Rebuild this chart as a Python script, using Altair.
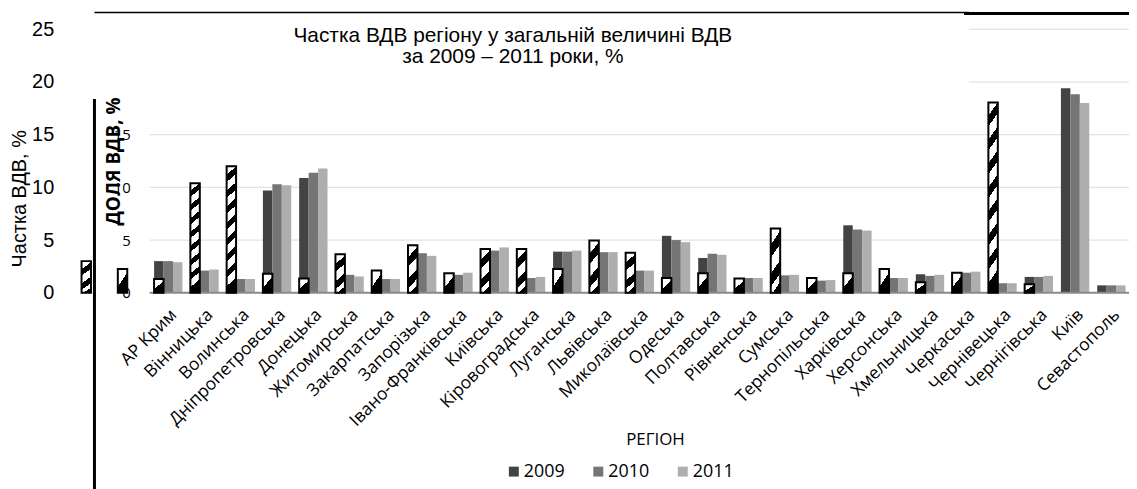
import altair as alt
import pandas as pd

regions = ["АР Крим", "Вінницька", "Волинська", "Дніпропетровська", "Донецька",
           "Житомирська", "Закарпатська", "Запорізька", "Івано-Франківська", "Київська",
           "Кіровоградська", "Луганська", "Львівська", "Миколаївська", "Одеська",
           "Полтавська", "Рівненська", "Сумська", "Тернопільська", "Харківська",
           "Херсонська", "Хмельницька", "Черкаська", "Чернівецька", "Чернігівська",
           "Київ", "Севастополь"]
years = ["2009", "2010", "2011"]
share_2009 = [3.0, 2.0, 1.3, 9.7, 10.9, 1.7, 1.3, 3.75, 1.7, 4.0, 1.4, 3.9, 3.85, 2.1, 5.4,
              3.3, 1.4, 1.65, 1.15, 6.4, 1.4, 1.75, 1.9, 0.9, 1.5, 19.4, 0.7]
share_2010 = [3.0, 2.1, 1.3, 10.3, 11.4, 1.7, 1.3, 3.75, 1.7, 4.0, 1.4, 3.9, 3.85, 2.1, 5.0,
              3.7, 1.4, 1.65, 1.15, 6.0, 1.4, 1.6, 1.9, 0.9, 1.5, 18.85, 0.7]
share_2011 = [2.9, 2.2, 1.3, 10.2, 11.8, 1.55, 1.3, 3.5, 1.9, 4.3, 1.5, 4.0, 3.85, 2.1, 4.8,
              3.6, 1.4, 1.7, 1.2, 5.9, 1.4, 1.7, 2.0, 0.9, 1.6, 18.0, 0.7]
# hatched (overlaid) series: two extra slots before the regions
extra_slots = ["_a", "_b"]
hatched_values = [3.0, 2.25, 1.3, 10.4, 12.0, 1.8, 1.35, 3.65, 2.1, 4.5, 1.85, 4.15, 4.15,
                  2.25, 4.95, 3.8, 1.4, 1.85, 1.35, 6.1, 1.4, 1.85, 2.25, 1.0, 1.9, 18.05,
                  0.8, 0.0, 0.0]
bg_ticks = [0, 5, 10, 15, 20, 25]
fg_ticks = [0, 5, 10, 15]
grid_full = [5, 10, 15]
grid_right = [20, 25]
year_colors = ["#3d3d3d", "#717171", "#ababab"]

slots = extra_slots + regions
rows = []
for yr, vals in zip(years, [share_2009, share_2010, share_2011]):
    for r, v in zip(regions, vals):
        rows.append({"region": r, "year": yr, "value": v})
df = pd.DataFrame(rows)
dfh = pd.DataFrame({"region": slots, "year": "2009", "value": hatched_values})

W, H = 1078, 265
FG = "Open Sans"
BG = "Liberation Sans"

xscale = alt.Scale(domain=slots, range=[19.5, 1078], paddingInner=0, paddingOuter=0)
xoff_scale = alt.Scale(domain=years, range=[4.5, 33], paddingInner=0, paddingOuter=0)
yscale = alt.Scale(domain=[0, 25], nice=False, zero=True)

xaxis = alt.Axis(title="РЕГІОН", labelAngle=-45, labelFont=FG, labelFontSize=17.5,
                 labelColor="#000000", ticks=False, domain=False, labelPadding=13,
                 labelExpr="indexof(['_a','_b'], datum.label) >= 0 ? '' : datum.label",
                 titleFont=FG, titleFontSize=17, titleFontWeight="normal", titleColor="#000000",
                 titleX=601, titleY=148, titleBaseline="middle", titleAlign="center")
bg_axis = alt.Axis(values=bg_ticks, domain=False, ticks=False, grid=False,
                   labelFont=BG, labelFontSize=20, labelColor="#000000", labelPadding=4,
                   title="Частка ВДВ, %", titleFont=BG, titleFontSize=20,
                   titleFontWeight="normal", titleColor="#000000", titleX=-38, titleY=170,
                   titleAngle=270, titleBaseline="middle", titleAlign="center")

grid1 = alt.Chart(pd.DataFrame({"value": grid_full})).mark_rule(
    color="#e3e3e3", strokeWidth=1.3).encode(
    y=alt.Y("value:Q", scale=yscale, axis=bg_axis), x=alt.value(92.5), x2=alt.value(1078))
grid2 = alt.Chart(pd.DataFrame({"value": grid_right})).mark_rule(
    color="#e3e3e3", strokeWidth=1.3).encode(
    y=alt.Y("value:Q", scale=yscale), x=alt.value(917), x2=alt.value(1078))

bars = alt.Chart(df).mark_bar(opacity=0.97).encode(
    x=alt.X("region:N", scale=xscale, axis=xaxis, sort=None),
    xOffset=alt.XOffset("year:N", scale=xoff_scale),
    y=alt.Y("value:Q", scale=yscale),
    color=alt.Color("year:N", scale=alt.Scale(domain=years, range=year_colors),
                    legend=alt.Legend(orient="none", legendX=450, legendY=436,
                                      direction="horizontal", title=None,
                                      symbolType="square", symbolSize=100,
                                      symbolStrokeWidth=0, labelFont=FG,
                                      labelFontSize=18, labelColor="#000000",
                                      columnPadding=24, labelOffset=1)),
)

baseline = alt.Chart(pd.DataFrame({"value": [0]})).mark_rule(
    color="#8a8a8a", strokeWidth=2).encode(
    y=alt.Y("value:Q", scale=yscale), x=alt.value(92.5), x2=alt.value(1078))


def stripes(periods, tilt):
    stops = []
    k = 0
    while k / periods <= 1:
        a = k / periods
        b = min((k + 0.55) / periods, 1)
        c = min((k + 1) / periods, 1)
        stops += [alt.GradientStop(color="white", offset=a),
                  alt.GradientStop(color="white", offset=b),
                  alt.GradientStop(color="black", offset=b),
                  alt.GradientStop(color="black", offset=c)]
        k += 1
    return alt.LinearGradient(gradient="linear", stops=stops, x1=0, y1=0, x2=tilt, y2=1)


def hatched(cond, periods, tilt):
    return alt.Chart(dfh).transform_filter(cond).mark_bar(
        fill=stripes(periods, tilt), stroke="black", strokeWidth=2).encode(
        x=alt.X("region:N", scale=xscale, sort=None),
        xOffset=alt.XOffset("year:N", scale=xoff_scale),
        y=alt.Y("value:Q", scale=yscale),
    )


h_tall = hatched("datum.value >= 8", 8, 0.07)
h_mid = hatched("datum.value >= 2.6 && datum.value < 8", 2.3, 0.21)
h_short = hatched("datum.value > 0 && datum.value < 2.6", 1.0, 0.6)

frame_v = alt.Chart(pd.DataFrame({"k": [0]})).mark_rule(color="black", strokeWidth=3).encode(
    x=alt.value(37), y=alt.value(70), y2=alt.value(470))
frame_t1 = alt.Chart(pd.DataFrame({"k": [0]})).mark_rule(color="black", strokeWidth=1.5).encode(
    x=alt.value(37), x2=alt.value(917), y=alt.value(-17))
frame_t2 = alt.Chart(pd.DataFrame({"k": [0]})).mark_rule(color="black", strokeWidth=3).encode(
    x=alt.value(912), x2=alt.value(1080), y=alt.value(-16))

inner = alt.layer(grid1, grid2, bars, baseline, h_tall, h_mid, h_short,
                  frame_v, frame_t1, frame_t2)

fg_axis_layer = alt.Chart(pd.DataFrame({"value": [0, 25]})).mark_rule(opacity=0).encode(
    y=alt.Y("value:Q", scale=alt.Scale(domain=[0, 25], nice=False),
            axis=alt.Axis(orient="left", offset=-75, values=fg_ticks, domain=False,
                          ticks=False, grid=False, labelFont=FG, labelFontSize=15,
                          labelColor="#000000", labelPadding=2,
                          title="ДОЛЯ ВДВ, %", titleFont=FG, titleFontSize=19,
                          titleFontWeight="bold", titleColor="#000000",
                          titleX=-19, titleAngle=270, titleBaseline="middle",
                          titleAlign="center")))

chart = alt.layer(inner, fg_axis_layer).resolve_scale(y="independent").properties(
    width=W, height=H,
    autosize=alt.AutoSizeParams(type="none"),
    padding={"left": 50, "top": 20, "right": 0, "bottom": 196},
    title=alt.TitleParams(
        text=["Частка ВДВ регіону у загальній величині ВДВ", "за 2009 – 2011 роки, %"],
        font=BG, fontSize=21, fontWeight="normal", color="#000000",
        anchor="middle", frame="group", dx=-81, dy=56, offset=0, baseline="top",
        lineHeight=22),
).configure_view(stroke=None)

chart.save("out.html", embed_options={"renderer": "svg", "actions": False})
